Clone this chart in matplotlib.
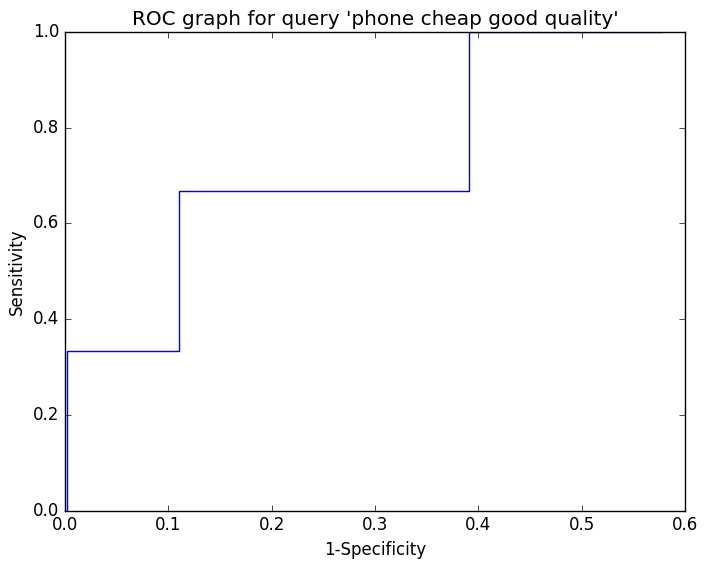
import matplotlib
matplotlib.use("Agg")
import matplotlib.pyplot as plt

# ROC points (1-specificity, sensitivity), drawn as a step curve
fpr = [0.0, 0.002, 0.002, 0.11, 0.11, 0.391, 0.391, 0.577]
tpr = [0.0, 0.0, 0.333, 0.333, 0.667, 0.667, 1.0, 1.0]

plt.style.use("classic")
fig, ax = plt.subplots(figsize=(7.06, 5.7), dpi=100)
ax.plot(fpr, tpr, color="blue", linewidth=1)
ax.set_xlim(0, 0.6)
ax.set_ylim(0, 1.0)
ax.set_title("ROC graph for query 'phone cheap good quality'")
ax.set_xlabel("1-Specificity")
ax.set_ylabel("Sensitivity")
fig.subplots_adjust(left=0.092, right=0.97, top=0.944, bottom=0.104)
fig.patch.set_facecolor("white")
plt.savefig("out.png", dpi=100, facecolor="white")
